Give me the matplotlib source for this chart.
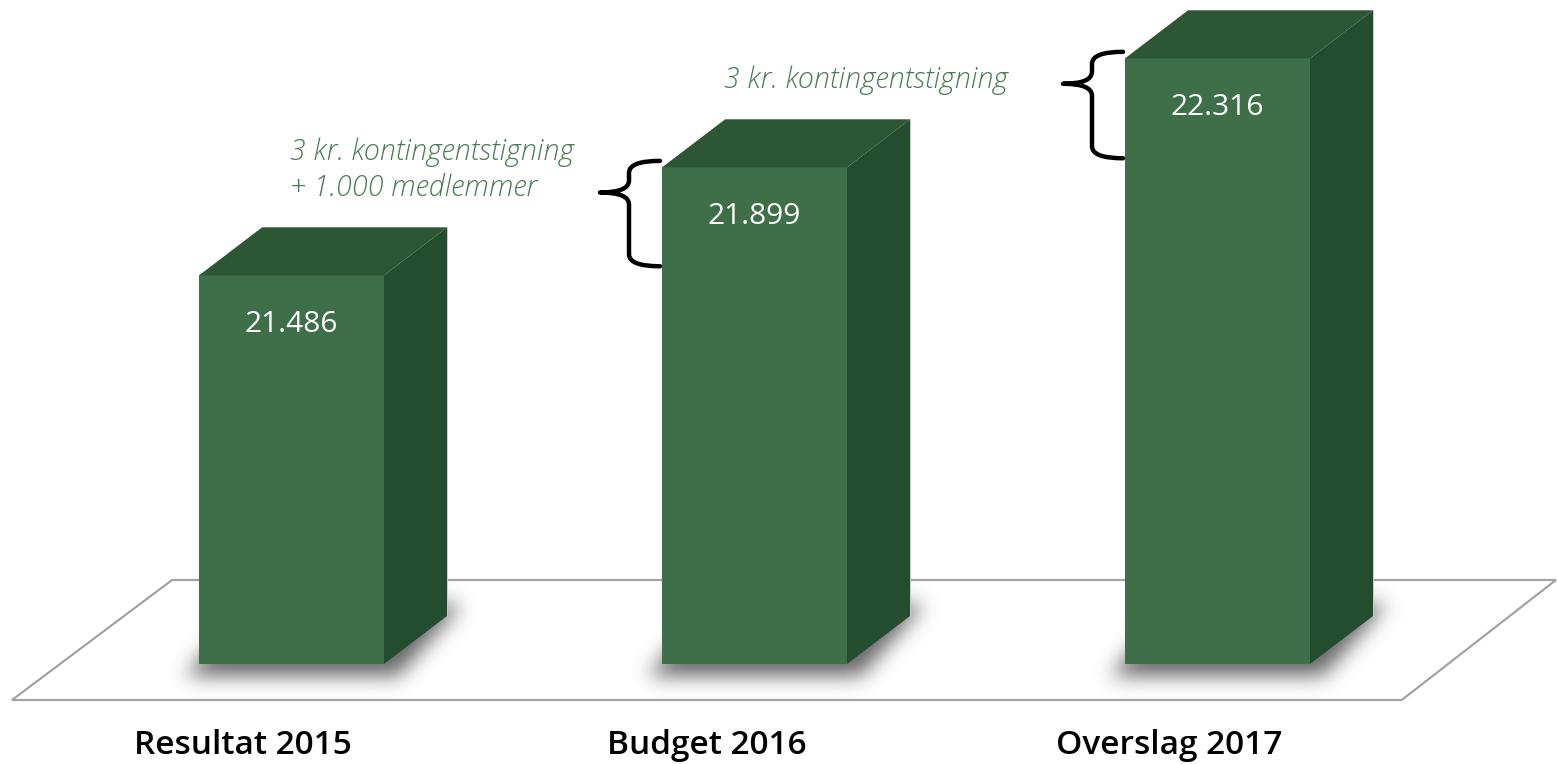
import numpy as np
import matplotlib
matplotlib.use("Agg")
import matplotlib.pyplot as plt
from matplotlib.patches import Polygon, Rectangle, PathPatch
from matplotlib.path import Path

# data
categories = ["Resultat 2015", "Budget 2016", "Overslag 2017"]
values = [21.486, 21.899, 22.316]
value_labels = ["21.486", "21.899", "22.316"]
note_texts = ["3 kr. kontingentstigning\n+ 1.000 medlemmer", "3 kr. kontingentstigning"]
note_bars = [1, 2]

# layout (data units: x = category index, y = value)
base = 20.0
px_x = 463.0      # pixels per x unit
px_y = 261.5      # pixels per value unit
bar_w = 185 / px_x
dep_x = 63 / px_x
dep_y = 48 / px_y
xlim = (-291.5 / px_x, (1557 - 291.5) / px_x)
ylim = (base - 100 / px_y, base + 664 / px_y)
note_pos = [(-0.003, 21.889), (0.935, 22.233)]

c_front = "#3f6f49"
c_top = "#2d5634"
c_side = "#244c2e"
c_note = "#4b7b54"

fig = plt.figure(figsize=(15.57, 7.64), dpi=100)
ax = fig.add_axes([0, 0, 1, 1])
ax.axis("off")

# floor
fl_front = base - 36 / px_y
fl_back = base + 84 / px_y
floor = [(-0.6037, fl_front), (2.398, fl_front), (2.731, fl_back), (-0.258, fl_back)]
ax.add_patch(Polygon(floor, closed=True, facecolor="white", edgecolor="#a3a3a3",
                     lw=1.6, zorder=1))

# soft shadows under bars
sx0, sx1 = xlim
sy0, sy1 = base - 60 / px_y, base + 120 / px_y
nx = int((sx1 - sx0) * px_x / 2)
ny = int((sy1 - sy0) * px_y / 2)
gx, gy = np.meshgrid(np.linspace(sx0, sx1, nx), np.linspace(sy0, sy1, ny))
pts = np.column_stack([gx.ravel(), gy.ravel()])
mask = np.zeros(gx.shape)
ex, ey = 14 / px_x, 12 / px_y
for i in range(len(values)):
    x0 = i - bar_w / 2
    x1 = i + bar_w / 2
    shp = Path([(x0 - ex, base - ey), (x1 + ex, base - ey),
                (x1 + dep_x + ex, base + dep_y + ey), (x0 + dep_x - ex, base + dep_y + ey)])
    mask = np.maximum(mask, shp.contains_points(pts).reshape(gx.shape).astype(float))

sig = 5.0
r = int(3 * sig)
k = np.exp(-0.5 * (np.arange(-r, r + 1) / sig) ** 2)
k /= k.sum()
blur = np.apply_along_axis(lambda m: np.convolve(m, k, mode="same"), 0, mask)
blur = np.apply_along_axis(lambda m: np.convolve(m, k, mode="same"), 1, blur)
rgba = np.zeros(gx.shape + (4,))
rgba[..., :3] = 0.25
rgba[..., 3] = blur * 0.8
ax.imshow(rgba, extent=(sx0, sx1, sy0, sy1), origin="lower", aspect="auto",
          interpolation="bilinear", zorder=2)

# bars
for i, v in enumerate(values):
    x0 = i - bar_w / 2
    x1 = i + bar_w / 2
    ax.add_patch(Rectangle((x0, base), bar_w, v - base, facecolor=c_front, lw=0, zorder=4))
    ax.add_patch(Polygon([(x0, v), (x1, v), (x1 + dep_x, v + dep_y), (x0 + dep_x, v + dep_y)],
                         facecolor=c_top, lw=0, zorder=4))
    ax.add_patch(Polygon([(x1, base), (x1 + dep_x, base + dep_y), (x1 + dep_x, v + dep_y), (x1, v)],
                         facecolor=c_side, lw=0, zorder=4))
    ax.plot([x0 + dep_x, x1 + dep_x, x1 + dep_x], [v + dep_y, v + dep_y, base + dep_y],
            color="#c9c9c9", lw=0.7, zorder=3)
    ax.text(i, v - 0.187, value_labels[i], color="white", fontsize=21.5,
            family=["Open Sans", "DejaVu Sans"], ha="center", va="center", zorder=5)
    ax.text(i - 0.104, base - 82 / px_y, categories[i], color="black",
            fontsize=24, fontweight="semibold", family=["Open Sans", "DejaVu Sans"],
            ha="center", va="center", zorder=5)


def brace(ax, x_end, y_top, y_bot, tip_frac=0.3):
    xv = x_end - 31 / px_x
    xt = x_end - 60 / px_x
    rr = 12 / px_y
    ym = y_top - tip_frac * (y_top - y_bot)
    verts = [(x_end, y_top), (xv, y_top), (xv, y_top - rr), (xv, ym + rr),
             (xv, ym), (xt, ym),
             (xv, ym), (xv, ym - rr), (xv, y_bot + rr),
             (xv, y_bot), (x_end, y_bot)]
    codes = [Path.MOVETO, Path.CURVE3, Path.CURVE3, Path.LINETO,
             Path.CURVE3, Path.CURVE3,
             Path.CURVE3, Path.CURVE3, Path.LINETO,
             Path.CURVE3, Path.CURVE3]
    ax.add_patch(PathPatch(Path(verts, codes), facecolor="none", edgecolor="black",
                           lw=3.2, capstyle="round", joinstyle="round", zorder=3))


for txt, b, (tx, ty) in zip(note_texts, note_bars, note_pos):
    brace(ax, b - bar_w / 2 - 2 / px_x, values[b] + 0.025, values[b - 1] + 0.035)
    ax.text(tx, ty, txt, color=c_note, fontsize=20.7, fontstyle="italic", fontweight="light",
            family=["Open Sans", "DejaVu Sans"], ha="left", va="center", linespacing=1.3,
            zorder=5)

ax.set_xlim(*xlim)
ax.set_ylim(*ylim)
fig.savefig("out.png", dpi=100)
